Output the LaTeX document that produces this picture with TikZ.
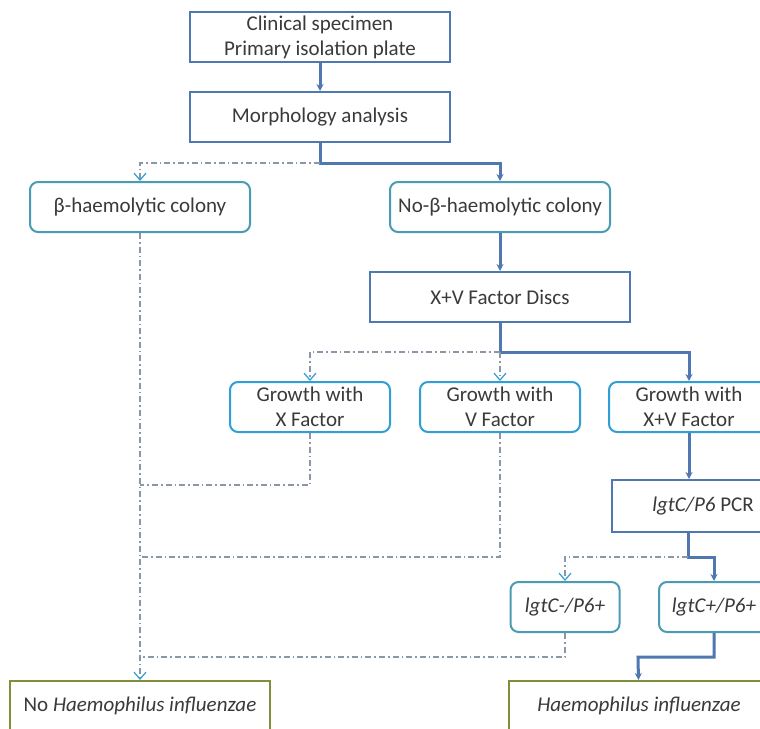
\documentclass[tikz,border=0pt]{standalone}
\usepackage{fontspec}
\setmainfont{Carlito}
\usetikzlibrary{arrows.meta,positioning,calc}
\definecolor{rectblue}{HTML}{4F77B0}
\definecolor{tealbox}{HTML}{4A9CB4}
\definecolor{cyanbox}{HTML}{2F9FD6}
\definecolor{olivebox}{HTML}{7E903C}
\definecolor{dashgray}{HTML}{8A97A8}
\definecolor{txt}{HTML}{3A3A3A}

\begin{document}
\begin{tikzpicture}[x=0.5pt, y=-0.5pt,
    base/.style={draw, line width=1pt, align=center, text=txt, fill=white, font=\fontsize{10.5}{12.5}\selectfont, minimum height=25pt, inner ysep=1pt},
    rect/.style={base, draw=rectblue, minimum width=130pt},
    rbox/.style={base, draw=tealbox, rounded corners=4pt},
    gbox/.style={base, draw=cyanbox, rounded corners=4pt, minimum width=80pt},
    endbox/.style={base, draw=olivebox, minimum width=130pt},
    sol/.style={draw=rectblue, line width=1.5pt, -{Stealth[length=3.5pt,width=3.5pt]}},
    dd/.style={draw=dashgray, line width=0.6pt, dash pattern=on 3pt off 1.5pt on 0.8pt off 1.5pt},
    ddarr/.style={dd, -{Straight Barb[length=3.5pt,width=6pt,color=cyanbox]}}
]
\useasboundingbox (0,0) rectangle (760,728);
\fill[white] (0,0) rectangle (760,728);
\clip (0,0) rectangle (760,728);

\node[rect] (spec) at (320,37) {Clinical specimen\\Primary isolation plate};
\node[rect] (morph) at (320,117) {Morphology analysis};
\node[rbox, minimum width=110pt] (beta) at (140,207) {β-haemolytic colony};
\node[rbox, minimum width=110pt] (nobeta) at (500,207) {No-β-haemolytic colony};
\node[rect] (discs) at (500,297) {X+V Factor Discs};
\node[gbox] (growx) at (310,407) {Growth with\\X Factor};
\node[gbox] (growv) at (500,407) {Growth with\\V Factor};
\node[gbox] (growxv) at (689,407) {Growth with\\X+V Factor};
\node[rect, minimum width=91pt, minimum height=26pt] (pcr) at (703,506) {\textit{lgtC/P6} PCR};
\node[rbox, minimum width=54.5pt] (neg) at (565,607) {\textit{lgtC-/P6+}};
\node[rbox, minimum width=55pt] (pos) at (714,607) {\textit{lgtC+/P6+}};
\node[endbox] (noflu) at (140,706) {No \textit{Haemophilus influenzae}};
\node[endbox] (flu) at (639,706) {\textit{Haemophilus influenzae}};

\coordinate (s1) at (320,163);
\coordinate (s2) at (500,352);
\coordinate (s3) at (688,557);
\coordinate (s4) at (638,657);
\coordinate (j1) at (140,485);
\coordinate (j2) at (140,557);
\coordinate (j3) at (140,657);

\draw[sol] (spec) -- (morph);
\draw[sol] (morph) -- (s1) -| (nobeta);
\draw[ddarr] (s1) -| (beta);
\draw[sol] (nobeta) -- (discs);
\draw[sol] (discs) -- (s2) -| (growxv);
\draw[ddarr] (s2) -| (growx);
\draw[ddarr] (s2) -- (growv);
\draw[sol] (growxv) -- (growxv |- pcr.north);
\draw[sol] (pcr.south -| s3) -- (s3) -| (pos);
\draw[ddarr] (s3) -| (neg);
\draw[ddarr] (beta) -- (noflu);
\draw[dd] (growx) |- (j1);
\draw[dd] (growv) |- (j2);
\draw[dd] (neg) |- (j3);
\draw[sol] (pos) |- (s4) -- (flu);
\end{tikzpicture}
\end{document}
